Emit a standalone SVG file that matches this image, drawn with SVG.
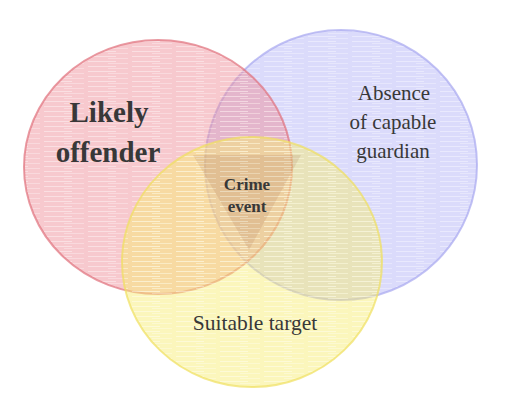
<svg xmlns="http://www.w3.org/2000/svg" width="521" height="410" viewBox="0 0 521 410">
<style>
.c{stroke-width:2;fill-opacity:0.48;stroke-opacity:0.7}
.t{font-family:'Liberation Serif','DejaVu Serif',serif;fill:#383838;text-anchor:middle}
.b{font-weight:bold}
</style>
<defs>
<pattern id="tex" width="44" height="5" patternUnits="userSpaceOnUse">
<rect x="0" y="1" width="28" height="1" fill="#ffffff" fill-opacity="0.4"/>
<rect x="20" y="3" width="20" height="1" fill="#ffffff" fill-opacity="0.3"/>
</pattern>
</defs>
<rect width="521" height="410" fill="#ffffff"/>
<g id="guardian">
<ellipse class="c" cx="341" cy="165" rx="136" ry="135" fill="#b4b4f6" stroke="#a8a8f0"/>
<ellipse cx="341" cy="165" rx="135" ry="134" fill="url(#tex)"/>
<text class="t" font-family="Liberation Serif, serif" x="394" y="100" font-size="21">Absence</text>
<text class="t" font-family="Liberation Serif, serif" x="393" y="129" font-size="21">of capable</text>
<text class="t" font-family="Liberation Serif, serif" x="393" y="158" font-size="21">guardian</text>
</g>
<g id="offender">
<ellipse class="c" cx="158" cy="167" rx="134" ry="127" fill="#ee8f98" stroke="#e0707c"/>
<ellipse cx="158" cy="167" rx="133" ry="126" fill="url(#tex)"/>
<text class="t b" font-family="Liberation Serif, serif" x="109" y="122" font-size="29">Likely</text>
<text class="t b" font-family="Liberation Serif, serif" x="108" y="162" font-size="29">offender</text>
</g>
<g id="target">
<ellipse class="c" cx="252" cy="262" rx="130" ry="125" fill="#f6ec72" stroke="#efe060"/>
<ellipse cx="252" cy="262" rx="129" ry="124" fill="url(#tex)"/>
<text class="t" font-family="Liberation Serif, serif" x="255" y="330" font-size="21.5">Suitable target</text>
</g>
<g id="crime">
<polygon points="193,155 301,155 249,250" fill="#8a4a30" fill-opacity="0.12"/>
<text class="t b" font-family="Liberation Serif, serif" x="247" y="190" font-size="17">Crime</text>
<text class="t b" font-family="Liberation Serif, serif" x="247" y="212" font-size="17">event</text>
</g>
</svg>
